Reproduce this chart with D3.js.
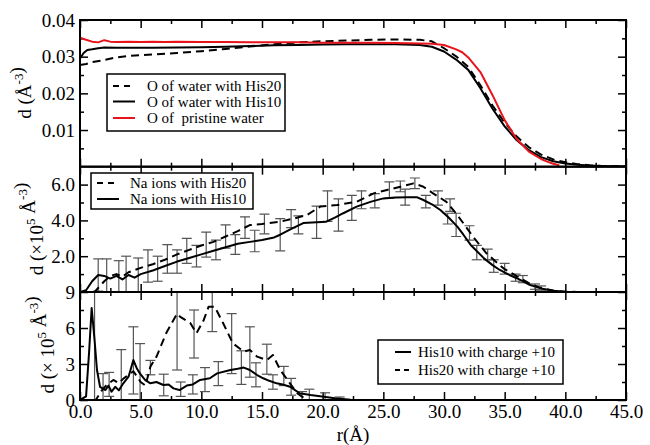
<!DOCTYPE html>
<html><head><meta charset="utf-8">
<script src="https://cdn.jsdelivr.net/npm/d3@7"></script>
<style>
body{margin:0;background:#fff}
svg{display:block}
text{font-family:"Liberation Serif","Times New Roman",serif;fill:#000}
</style></head>
<body><svg id="chart" width="650" height="445"></svg>
<script>
// ---------------- DATA ----------------
const xMajorTicks = [0,5,10,15,20,25,30,35,40,45];
const xMinorTicks = [2.5,7.5,12.5,17.5,22.5,27.5,32.5,37.5,42.5];
const xTickLabels = ["0.0","5.0","10.0","15.0","20.0","25.0","30.0","35.0","40.0","45.0"];

const topYMajor = [0.01,0.02,0.03,0.04];
const topYMinor = [0.005,0.015,0.025,0.035];
const topYLabels = ["0.01","0.02","0.03","0.04"];
const midYMajor = [2,4,6];
const midYMinor = [1,3,5];
const midYLabels = ["2.0","4.0","6.0"];
const botYMajor = [0,3,6,9];
const botYMinor = [1.5,4.5,7.5];
const botYLabels = ["0","3","6","9"];

// Top panel: water oxygen density (Å^-3)
const waterHis20 = [[0,0.0277],[0.5,0.0280],[1,0.0285],[2,0.0291],[3,0.0298],[4,0.0302],[5,0.0304],[6,0.0306],[8,0.0310],[10,0.0315],[12,0.0321],[14,0.0328],[16,0.0334],[18,0.0339],[20,0.0342],[22,0.0344],[24,0.0346],[26,0.0347],[28,0.0346],[29,0.0342],[30,0.0323],[31,0.0301],[32,0.0272],[33,0.0222],[34,0.0167],[35,0.0120],[36,0.0082],[37,0.0053],[38,0.0033],[39,0.0020],[40,0.0012],[41,0.0007],[42,0.0004],[43,0.0002],[44,0.0001],[45,0.0001]];
const waterHis10 = [[0,0.0295],[0.3,0.0310],[0.6,0.0318],[1,0.0320],[1.5,0.0323],[2,0.0325],[3,0.0324],[4,0.0324],[6,0.0324],[8,0.0325],[10,0.0326],[12,0.0327],[14,0.0329],[16,0.0331],[18,0.0332],[20,0.0333],[22,0.0334],[24,0.0334],[26,0.0334],[28,0.0332],[29,0.0327],[30,0.0314],[31,0.0292],[32,0.0264],[33,0.0214],[34,0.0158],[35,0.0110],[36,0.0072],[37,0.0045],[38,0.0026],[39,0.0015],[40,0.0009],[41,0.0005],[42,0.0003],[43,0.0002],[44,0.0001],[45,0.0001]];
const waterPristine = [[0,0.0352],[0.5,0.0346],[1,0.0341],[1.5,0.0339],[2,0.0345],[2.5,0.0341],[3,0.0340],[4,0.0341],[5,0.0340],[6,0.0341],[7,0.0340],[8,0.0341],[10,0.0340],[12,0.0340],[14,0.0339],[16,0.0339],[18,0.0339],[20,0.0338],[22,0.0338],[24,0.0338],[26,0.0337],[28,0.0336],[29,0.0335],[30,0.0332],[31,0.0320],[31.5,0.0312],[32,0.0298],[33,0.0258],[34,0.0195],[35,0.0127],[36,0.0075],[37,0.0041],[38,0.0021],[38.5,0.0014],[39,0.0008],[39.5,0.0004]];

// Middle panel: Na ions (x10^5 Å^-3)
const naHis20 = [[0,0],[1.2,0],[1.6,0.3],[2,0.6],[2.5,0.9],[3,1.0],[3.5,0.85],[4,1.1],[5,1.35],[6,1.55],[7,1.8],[8,2.1],[9,2.35],[10,2.6],[11,2.8],[12,3.1],[13,3.4],[14,3.74],[15,3.8],[16.5,3.93],[17.6,4.1],[18.7,4.3],[19.8,4.77],[21.2,4.86],[22.8,5.04],[24.2,5.51],[25.3,5.7],[26.4,5.88],[27.5,6.07],[28.3,5.88],[29.1,5.51],[30.2,5.04],[31.1,4.3],[32.4,3.09],[33.5,2.16],[34.9,1.32],[36.3,0.77],[37.1,0.45],[38,0.22],[39,0.08],[40,0.02],[41,0],[45,0]];
const naHis10 = [[0,0],[0.5,0.1],[1,0.6],[1.5,0.95],[2,0.9],[2.5,0.75],[3,0.9],[3.5,0.7],[4,0.95],[4.5,0.8],[5,1.0],[6,1.2],[7,1.45],[8,1.7],[9,1.9],[10,2.1],[11,2.3],[12,2.5],[13,2.7],[14,2.8],[15,2.9],[16,3.05],[16.5,3.2],[17.5,3.55],[18.4,3.85],[19.5,3.9],[20.3,3.93],[21,4.15],[21.7,4.4],[22.8,4.77],[24,5.05],[25,5.23],[26,5.28],[27,5.3],[27.8,5.29],[28.3,5.14],[29,4.9],[29.7,4.58],[30.4,4.15],[31.1,3.65],[31.6,3.2],[32.2,2.63],[33.3,1.88],[34,1.5],[34.6,1.23],[35.3,0.98],[36,0.77],[37.1,0.39],[38,0.2],[39,0.07],[40,0.02],[41,0],[45,0]];
// error bars [r, value, half-width]
const naHis10Err = [[1.5,0.95,0.9],[3.2,0.85,0.9],[4.8,0.95,0.95],[6.4,1.3,0.7],[8,1.7,0.65],[9.6,2.0,0.6],[11.2,2.35,0.55],[12.8,2.65,0.55],[14.4,2.85,0.6],[16.5,3.2,0.9],[18,3.75,0.5],[19.5,3.9,0.9],[21.3,4.3,0.9],[22.4,4.7,0.7],[24.3,5.1,0.4],[26.8,5.3,0.45],[28.5,5.05,0.35],[30.3,4.1,0.3],[31.0,3.75,0.65],[32.7,2.2,0.4],[34.1,1.45,0.35],[35.9,0.8,0.2],[37.5,0.3,0.15]];
const naHis20Err = [[2.2,0.75,1.1],[3.8,1.0,1.0],[5.6,1.45,0.9],[7.2,1.85,0.8],[8.8,2.3,0.7],[10.4,2.65,0.7],[12,3.1,0.65],[13.6,3.6,0.6],[15.2,3.8,0.55],[17.4,4.1,0.5],[20.4,4.8,0.85],[23.2,5.15,0.5],[25.5,5.7,0.45],[26.4,5.9,0.3],[27.6,6.07,0.3],[29.5,5.25,0.4],[30.5,4.85,0.35],[32.1,3.3,0.4],[33.6,2.1,0.3],[35,1.3,0.3],[36.5,0.72,0.2],[38,0.22,0.12]];

// Bottom panel: His with charge +10 (x10^5 Å^-3)
const hisQ10 = [[0,0],[0.5,0.3],[0.75,4],[0.96,7.67],[1.2,5],[1.4,2.5],[1.65,1.1],[2.1,0.83],[2.35,1.2],[2.6,0.69],[2.9,1.1],[3.2,0.8],[3.57,1.39],[4,1.94],[4.4,3.33],[4.7,2.6],[4.95,2.2],[5.36,1.67],[5.8,1.39],[6.3,1.5],[6.87,1.25],[7.3,1.3],[7.7,0.97],[8.2,0.83],[8.8,1.2],[9.3,1.3],[9.9,1.67],[10.7,1.81],[11.3,2.22],[12.4,2.5],[13,2.6],[13.5,2.7],[14,2.5],[14.6,2.08],[15.1,1.81],[15.6,1.6],[16.2,1.39],[16.7,1.3],[17.3,1.11],[18.1,0.56],[19,0.42],[20.1,0.28],[21,0.14],[22.3,0.02],[23,0],[45,0]];
const hisQ20 = [[0,0],[1.3,0],[1.8,0.8],[2.2,1.25],[2.75,1.67],[3.2,1.4],[3.6,1.8],[4,2.1],[4.4,2.4],[5,1.5],[5.4,1.2],[5.8,2.78],[6.3,3.6],[7.1,5.56],[8.0,7.2],[8.3,6.9],[9.1,6.4],[9.6,5.56],[10.2,6.67],[10.6,7.78],[11.1,7.78],[11.8,6.4],[12.6,4.72],[13.5,4.03],[14,4.17],[14.6,3.61],[15.4,3.33],[15.9,3.75],[16.5,2.5],[17.3,1.39],[17.9,0.56],[18.7,0],[45,0]];
const hisQ10Err = [[1.2,5,6],[1.9,1.0,1.2],[3.4,1.4,2.8],[4.4,3.3,2.8],[6.9,1.25,0.9],[8.3,0.9,0.6],[9.3,1.3,0.8],[10.3,1.7,1.0],[11.4,2.2,1.0],[13.3,2.7,1.4],[14.5,2.1,1.0],[15.9,1.5,0.6],[17.4,1.1,0.7],[18.9,0.45,0.45],[20.2,0.3,0.3],[21.4,0.1,0.15]];
const hisQ20Err = [[2.4,1.3,1.0],[4.95,2.2,2.5],[5.8,2.7,0.6],[8.0,7.2,4.7],[9.4,5.5,2.0],[10.9,7.8,2.1],[12.5,4.7,2.5],[14.0,4.0,2.1],[15.4,3.4,1.25],[16.8,2.0,0.8],[18.3,0.3,0.4]];

// ---------------- DRAW ----------------
const FONT = '"Liberation Serif","Times New Roman",serif';
const svg = d3.select("#chart");
const L = 80, R = 626;
const x = d3.scaleLinear().domain([0,45]).range([L,R]);

const panels = [
  {id:"p0", top:20, bottom:166.7, domain:[0,0.04], major:topYMajor, minor:topYMinor, labels:topYLabels},
  {id:"p1", top:166.7, bottom:292, domain:[0,7], major:midYMajor, minor:midYMinor, labels:midYLabels},
  {id:"p2", top:292, bottom:400, domain:[0,9], major:botYMajor, minor:botYMinor, labels:botYLabels}
];
panels.forEach(p => { p.y = d3.scaleLinear().domain(p.domain).range([p.bottom,p.top]); });

const defs = svg.append("defs");
panels.forEach(p => {
  defs.append("clipPath").attr("id","clip"+p.id).append("rect")
    .attr("x",L).attr("y",p.top).attr("width",R-L).attr("height",p.bottom-p.top);
});

function styleAxis(g){
  g.attr("font-family",FONT).attr("font-size",19);
  g.select(".domain").remove();
  g.selectAll(".tick line").attr("stroke","#000").attr("stroke-width",1.5);
  g.selectAll(".tick text").attr("fill","#000");
}

panels.forEach((p,i) => {
  const isBottom = i === 2;
  svg.append("g").attr("transform",`translate(0,${p.bottom})`)
    .call(d3.axisBottom(x).tickValues(xMajorTicks).tickSize(-8).tickPadding(5)
      .tickFormat((d,k)=> isBottom ? xTickLabels[k] : ""))
    .call(styleAxis);
  svg.append("g").attr("transform",`translate(0,${p.bottom})`)
    .call(d3.axisBottom(x).tickValues(xMinorTicks).tickSize(-4).tickFormat(""))
    .call(styleAxis);
  svg.append("g").attr("transform",`translate(0,${p.top})`)
    .call(d3.axisTop(x).tickValues(xMajorTicks).tickSize(-8).tickFormat(""))
    .call(styleAxis);
  svg.append("g").attr("transform",`translate(0,${p.top})`)
    .call(d3.axisTop(x).tickValues(xMinorTicks).tickSize(-4).tickFormat(""))
    .call(styleAxis);
  svg.append("g").attr("transform",`translate(${L},0)`)
    .call(d3.axisLeft(p.y).tickValues(p.major).tickSize(-8).tickPadding(5)
      .tickFormat((d,k)=>p.labels[k]))
    .call(styleAxis);
  svg.append("g").attr("transform",`translate(${L},0)`)
    .call(d3.axisLeft(p.y).tickValues(p.minor).tickSize(-4).tickFormat(""))
    .call(styleAxis);
  svg.append("g").attr("transform",`translate(${R},0)`)
    .call(d3.axisRight(p.y).tickValues(p.major).tickSize(-8).tickFormat(""))
    .call(styleAxis);
  svg.append("g").attr("transform",`translate(${R},0)`)
    .call(d3.axisRight(p.y).tickValues(p.minor).tickSize(-4).tickFormat(""))
    .call(styleAxis);
});

function drawLine(p, data, opts){
  const line = d3.line().x(d=>x(d[0])).y(d=>p.y(d[1]));
  svg.append("path").datum(data)
    .attr("clip-path",`url(#clip${p.id})`)
    .attr("d",line).attr("fill","none")
    .attr("stroke",opts.color||"#000").attr("stroke-width",opts.width||2)
    .attr("stroke-dasharray",opts.dash||null)
    .attr("stroke-linejoin","round");
}
function drawErr(p, data){
  const g = svg.append("g").attr("clip-path",`url(#clip${p.id})`)
    .attr("stroke","#555").attr("stroke-width",1.2);
  const cap = 5;
  data.forEach(d => {
    const xx = x(d[0]), y1 = p.y(d[1]-d[2]), y2 = p.y(d[1]+d[2]);
    g.append("line").attr("x1",xx).attr("x2",xx).attr("y1",y1).attr("y2",y2);
    g.append("line").attr("x1",xx-cap).attr("x2",xx+cap).attr("y1",y1).attr("y2",y1);
    g.append("line").attr("x1",xx-cap).attr("x2",xx+cap).attr("y1",y2).attr("y2",y2);
  });
}

const [P0,P1,P2] = panels;
drawLine(P0, waterHis20, {dash:"8,5"});
drawLine(P0, waterHis10, {});
drawLine(P0, waterPristine, {color:"#e8141c"});
drawErr(P1, naHis10Err);
drawErr(P1, naHis20Err);
drawLine(P1, naHis20, {dash:"8,5"});
drawLine(P1, naHis10, {});
drawErr(P2, hisQ10Err);
drawErr(P2, hisQ20Err);
drawLine(P2, hisQ20, {dash:"8,5"});
drawLine(P2, hisQ10, {});

panels.forEach(p => {
  svg.append("rect").attr("x",L).attr("y",p.top).attr("width",R-L).attr("height",p.bottom-p.top)
    .attr("fill","none").attr("stroke","#000").attr("stroke-width",2);
});

function legend(box, rows){
  svg.append("rect").attr("x",box.x).attr("y",box.y).attr("width",box.w).attr("height",box.h)
    .attr("fill","#fff").attr("stroke","#000").attr("stroke-width",1.5);
  rows.forEach(r => {
    svg.append("line").attr("x1",box.sx1).attr("x2",box.sx2).attr("y1",r.y).attr("y2",r.y)
      .attr("stroke",r.color||"#000").attr("stroke-width",2)
      .attr("stroke-dasharray",r.dash||null);
    svg.append("text").attr("x",box.tx).attr("y",r.y+5).attr("font-family",FONT).attr("font-size",15)
      .attr("xml:space","preserve").text(r.label);
  });
}
legend({x:107,y:74,w:178,h:57,sx1:113,sx2:135,tx:147},[
  {y:86,label:"O of water with His20",dash:"6,5"},
  {y:101.5,label:"O of water with His10"},
  {y:118,label:"O of  pristine water",color:"#e8141c"}
]);
legend({x:91,y:173,w:162,h:36,sx1:97,sx2:119,tx:130},[
  {y:183,label:"Na ions with His20",dash:"6,5"},
  {y:199,label:"Na ions with His10"}
]);
legend({x:378,y:340,w:185,h:44,sx1:395,sx2:411,tx:418},[
  {y:352,label:"His10 with charge +10"},
  {y:370,label:"His20 with charge +10",dash:"5,4"}
]);

function yTitle(xp, yp, parts){
  const t = svg.append("text").attr("transform",`translate(${xp},${yp}) rotate(-90)`)
    .attr("text-anchor","middle").attr("font-family",FONT).attr("font-size",19).attr("xml:space","preserve");
  parts.forEach(pt => {
    if (pt.sup) {
      t.append("tspan").attr("dy",-8).attr("font-size",13).text(pt.t);
      t.append("tspan").attr("dy",8).text("");
    } else t.append("tspan").text(pt.t);
  });
}
yTitle(31, 93, [{t:"d (Å"},{t:"-3",sup:true},{t:")"}]);
yTitle(43, 229, [{t:"d (×10"},{t:"5",sup:true},{t:" Å"},{t:"-3",sup:true},{t:")"}]);
yTitle(54, 345, [{t:"d (× 10"},{t:"5",sup:true},{t:" Å"},{t:"-3",sup:true},{t:")"}]);

svg.append("text").attr("x",(L+R)/2).attr("y",441).attr("text-anchor","middle")
  .attr("font-family",FONT).attr("font-size",19).text("r(Å)");
</script>
</body></html>
